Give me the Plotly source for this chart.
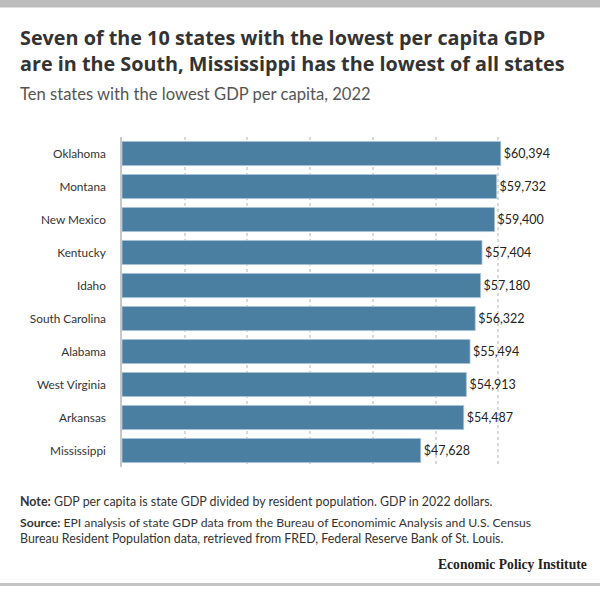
import plotly.graph_objects as go

states = ["Oklahoma", "Montana", "New Mexico", "Kentucky", "Idaho",
          "South Carolina", "Alabama", "West Virginia", "Arkansas", "Mississippi"]
gdp = [60394, 59732, 59400, 57404, 57180, 56322, 55494, 54913, 54487, 47628]
labels = ["$" + f"{v:,}" for v in gdp]

W, H = 600, 608
L, R, T, B = 122, 39, 137, 141
PH = H - T - B

def py(ypix):
    return (H - B - ypix) / PH

def px(xpix):
    return (xpix - L) / (W - L - R)

fig = go.Figure(go.Bar(
    x=gdp, y=states, orientation="h",
    marker=dict(color="#4b7fa2", line=dict(color="#a8c3d6", width=0.8)),
    text=labels, textposition="outside", cliponaxis=False,
    textfont=dict(family="Lato", size=12.5, color="#222"),
    hoverinfo="skip",
))

fig.update_layout(
    width=W, height=H, margin=dict(l=L, r=R, t=T, b=B),
    paper_bgcolor="white", plot_bgcolor="white",
    bargap=0.27, showlegend=False,
    font=dict(family="Lato", color="#333"),
)
fig.update_xaxes(range=[0, 70000], dtick=10000, showticklabels=False,
                 showgrid=True, gridcolor="#d9d9d9", griddash="dot", gridwidth=1.5,
                 zeroline=False, showline=False, ticks="")
fig.update_yaxes(autorange="reversed", showgrid=False, showline=True,
                 linecolor="#c8c8c8", linewidth=1.5, ticks="", ticklen=0,
                 tickfont=dict(family="Lato", size=11.8, color="#333"),
                 ticklabelstandoff=12)

ann = []
def add(text, xp, yp, size, color="#333", family="Lato", xanchor="left"):
    ann.append(dict(text=text, x=px(xp), y=py(yp), xref="paper", yref="paper",
                    xanchor=xanchor, yanchor="bottom", showarrow=False,
                    font=dict(family=family, size=size, color=color), align="left"))

add("<b>Seven of the 10 states with the lowest per capita GDP</b><br>"
    "<b>are in the South, Mississippi has the lowest of all states</b>",
    18, 79, 19.8, "#333", "Open Sans")
add("Ten states with the lowest GDP per capita, 2022", 18, 106, 16.6, "#555")
add("<b>Note:</b> GDP per capita is state GDP divided by resident population. GDP in 2022 dollars.",
    18, 511, 12.4, "#333")
add("<b>Source:</b> EPI analysis of state GDP data from the Bureau of Economimic Analysis and U.S. Census",
    18, 532, 12.2, "#333")
add("Bureau Resident Population data, retrieved from FRED, Federal Reserve Bank of St. Louis.",
    18, 548, 12.4, "#333")
add("<b>Economic Policy Institute</b>", 589, 574, 13.6, "#222", "Liberation Serif", "right")
fig.update_layout(annotations=ann)

fig.add_shape(type="rect", xref="paper", yref="paper", x0=px(0), x1=px(W),
              y0=py(7.5), y1=py(0), fillcolor="#bdbdbd", line_width=0, layer="above")
fig.add_shape(type="rect", xref="paper", yref="paper", x0=px(0), x1=px(W),
              y0=py(586), y1=py(583), fillcolor="#c4c4c4", line_width=0, layer="above")

fig.write_html("out.html")
